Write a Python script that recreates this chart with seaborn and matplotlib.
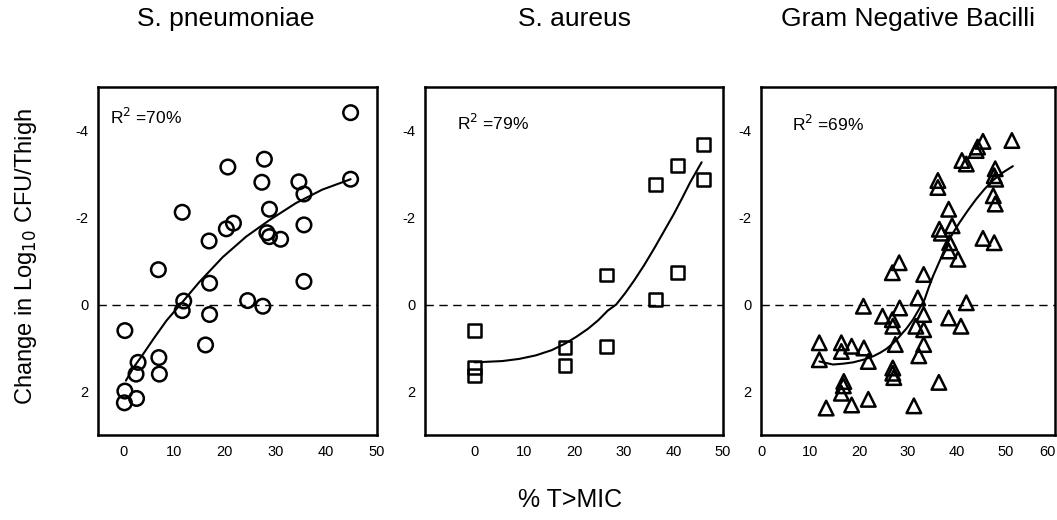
import numpy as np
import pandas as pd
import matplotlib
matplotlib.use("Agg")
import matplotlib.pyplot as plt
import matplotlib.transforms as mtransforms
import seaborn as sns

# ---------------- data ----------------
titles = ["S. pneumoniae", "S. aureus", "Gram Negative Bacilli"]
r2_labels = ["R$^2$ =70%", "R$^2$ =79%", "R$^2$ =69%"]

sp_x = [44.8, 44.8, 27.8, 20.6, 27.3, 34.6, 35.6, 11.6, 28.8, 20.3, 21.7, 35.6, 16.9,
        28.3, 28.8, 31.0, 6.9, 17.0, 35.6, 24.5, 11.9, 11.6, 27.5, 17.0, 0.3, 16.2,
        7.0, 2.9, 2.5, 7.1, 0.3, 2.6, 0.2]
sp_y = [-4.41, -2.88, -3.34, -3.16, -2.81, -2.82, -2.54, -2.12, -2.19, -1.74, -1.87, -1.83, -1.46,
        -1.65, -1.56, -1.50, -0.80, -0.49, -0.53, -0.09, -0.08, 0.14, 0.04, 0.23, 0.60, 0.93,
        1.22, 1.33, 1.60, 1.60, 1.99, 2.16, 2.26]
sp_fit_x = [0.5, 2.0, 3.9, 6.0, 8.5, 11.6, 15.0, 19.6, 24.2, 28.8, 34.0, 39.2, 44.8]
sp_fit_y = [1.75, 1.45, 1.14, 0.78, 0.37, -0.05, -0.52, -1.09, -1.56, -1.94, -2.33, -2.64, -2.88]

sa_x = [46.0, 46.0, 40.9, 36.4, 26.5, 40.9, 36.4, 0.0, 18.2, 26.5, 18.2, 0.0, 0.0]
sa_y = [-3.68, -2.87, -3.20, -2.75, -0.68, -0.74, -0.11, 0.60, 0.98, 0.96, 1.40, 1.44, 1.63]
sa_fit_x = [0.0, 5.6, 9.0, 12.3, 15.5, 18.2, 20.5, 22.8, 24.9, 26.8, 28.5, 30.3, 32.1, 34.1, 36.1,
            38.1, 40.1, 41.8, 43.4, 44.6, 45.7]
sa_fit_y = [1.33, 1.30, 1.25, 1.17, 1.05, 0.90, 0.74, 0.56, 0.36, 0.14, 0.0, -0.26, -0.55, -0.90, -1.28,
            -1.68, -2.08, -2.45, -2.81, -3.05, -3.27]

gnb_x = [51.2, 45.3, 44.2, 43.9, 41.0, 41.9, 47.8, 47.6, 47.9, 36.1, 36.1, 47.4, 47.8, 38.3,
         39.0, 36.4, 36.8, 45.3, 47.6, 38.5, 38.3, 40.2, 28.2, 26.8, 33.2, 32.0, 20.9, 28.3,
         41.9, 24.8, 33.2, 26.8, 26.9, 31.6, 33.2, 38.3, 40.8, 11.9, 16.4, 18.5, 21.0, 27.4,
         33.2, 16.4, 32.2, 11.9, 21.9, 26.9, 26.9, 27.1, 36.3, 16.9, 16.8, 16.4, 21.9, 18.5,
         13.3, 31.2]
gnb_y = [-3.77, -3.75, -3.62, -3.54, -3.31, -3.23, -3.12, -2.96, -2.88, -2.85, -2.69, -2.50, -2.31, -2.19,
         -1.81, -1.73, -1.64, -1.52, -1.42, -1.42, -1.23, -1.04, -0.96, -0.73, -0.69, -0.15, 0.04, 0.08,
         -0.04, 0.27, 0.23, 0.35, 0.50, 0.50, 0.58, 0.31, 0.50, 0.88, 0.88, 0.96, 1.00, 0.92,
         0.92, 1.08, 1.18, 1.27, 1.31, 1.46, 1.58, 1.68, 1.79, 1.77, 1.87, 2.04, 2.18, 2.31,
         2.38, 2.33]
gnb_fit_x = [11.9, 14.7, 16.8, 18.8, 20.9, 22.9, 24.3, 25.6, 27.0, 28.3, 29.7, 31.0, 32.2, 33.4,
             34.2, 35.1, 36.5, 37.8, 39.1, 40.5, 42.2, 43.9, 45.6, 47.3, 49.3, 51.4]
gnb_fit_y = [1.31, 1.38, 1.36, 1.33, 1.27, 1.19, 1.11, 1.02, 0.89, 0.73, 0.55, 0.35, 0.12, -0.12,
             -0.38, -0.65, -1.01, -1.35, -1.63, -1.88, -2.16, -2.42, -2.65, -2.85, -3.03, -3.18]

y_ticks = [-4, -2, 0, 2]
x_ticks = [[0, 10, 20, 30, 40, 50], [0, 10, 20, 30, 40, 50], [0, 10, 20, 30, 40, 50, 60]]
x_limits = [(-5, 50), (-10, 50), (0, 60)]

# ---------------- style ----------------
sns.set_style("white")
plt.rcParams["font.family"] = ["Liberation Sans", "DejaVu Sans"]
plt.rcParams["axes.unicode_minus"] = False
plt.rcParams["text.color"] = "black"

W, H = 1057, 520
fig = plt.figure(figsize=(W / 100, H / 100), dpi=100)

def px_axes(left, top, right, bottom):
    return fig.add_axes([left / W, 1 - bottom / H, (right - left) / W, (bottom - top) / H])

axes = [px_axes(98, 87, 377, 435), px_axes(425, 87, 723, 435), px_axes(761, 87, 1055, 435)]

sets = [
    (sp_x, sp_y, sp_fit_x, sp_fit_y, "o", 110),
    (sa_x, sa_y, sa_fit_x, sa_fit_y, "s", 85),
    (gnb_x, gnb_y, gnb_fit_x, gnb_fit_y, "^", 110),
]
r2_pos = [(110, 117), (457, 123), (792, 124)]
title_pos = [226, 574, 908]

for i, (ax, (x, y, fx, fy, mk, ms)) in enumerate(zip(axes, sets)):
    df = pd.DataFrame({"x": x, "y": y})
    fit = pd.DataFrame({"x": fx, "y": fy})
    ax.axhline(0, color="black", lw=1.0, ls=(0, (6, 4)), zorder=1)
    sns.lineplot(data=fit, x="x", y="y", ax=ax, color="black", lw=1.5, sort=False, zorder=2)
    sns.scatterplot(data=df, x="x", y="y", ax=ax, marker=mk, s=ms,
                    facecolor="none", edgecolor="black", linewidth=1.8, zorder=3)
    ax.set_xlim(*x_limits[i])
    ax.set_ylim(3, -5)
    ax.set_xticks(x_ticks[i])
    ax.set_yticks(y_ticks)
    ax.set_xlabel("")
    ax.set_ylabel("")
    for s in ax.spines.values():
        s.set_color("black")
        s.set_linewidth(1.8)
    ax.tick_params(direction="in", length=5, width=1.2, color="black",
                   labelsize=10.5, labelcolor="black", pad=7)
    ax.set_facecolor("white")
    fig.text(r2_pos[i][0] / W, 1 - r2_pos[i][1] / H, r2_labels[i], fontsize=12.5,
             ha="left", va="center")
    fig.text(title_pos[i] / W, 1 - 19 / H, titles[i], fontsize=19, ha="center", va="center")

# keep the last tick label of the right panel inside the figure (it sits at the edge)
last = axes[2].get_xticklabels()[-1]
last.set_transform(last.get_transform() + mtransforms.ScaledTranslation(-8 / 100, 0, fig.dpi_scale_trans))

fig.text(26 / W, 1 - 257 / H, "Change in Log$_{10}$ CFU/Thigh", rotation=90,
         fontsize=17, ha="center", va="center")
fig.text(570 / W, 1 - 500 / H, "% T>MIC", fontsize=18, ha="center", va="center")

fig.savefig("out.png", dpi=100, facecolor="white")
